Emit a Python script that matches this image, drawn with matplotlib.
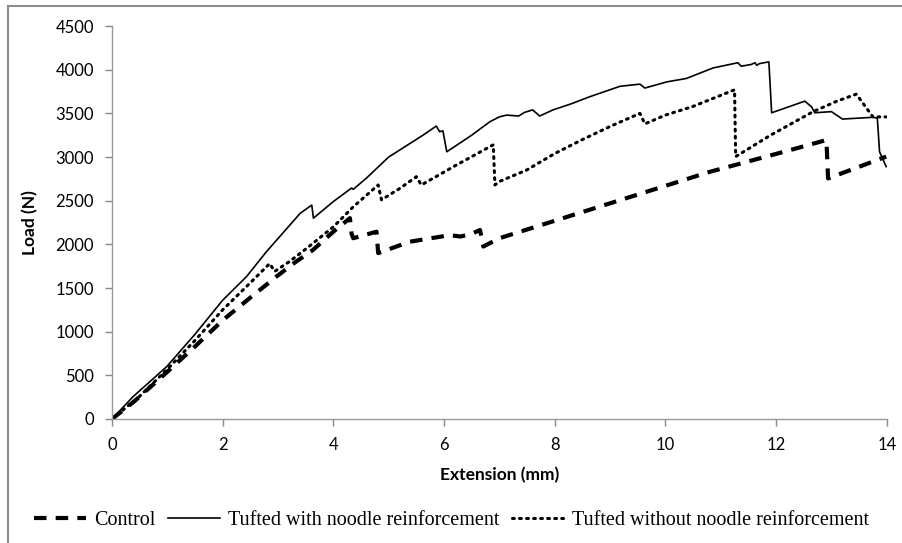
import matplotlib
matplotlib.use("Agg")
import matplotlib.pyplot as plt
from matplotlib.lines import Line2D

# === Dados ===
control_x = [0, 0.4, 1.0, 1.5, 2.0, 2.5, 2.97, 3.3, 3.63, 4.0, 4.3, 4.33, 4.36, 4.78, 4.81, 5.38,
             6.1, 6.3, 6.5, 6.65, 6.71, 7.0, 8.0, 9.0, 10.0, 10.8, 11.5, 12.2, 12.91, 12.94, 13.99]
control_y = [0, 200, 540, 830, 1130, 1390, 1630, 1790, 1935, 2145, 2300, 2120, 2070, 2145, 1900, 2030,
             2105, 2090, 2120, 2165, 1975, 2070, 2270, 2470, 2670, 2830, 2950, 3070, 3195, 2755, 3005]

noodle_x = [0, 0.38, 0.99, 1.5, 2.0, 2.43, 2.79, 3.4, 3.61, 3.64, 4.0, 4.33, 4.36, 4.6, 5.0, 5.62,
            5.86, 5.92, 5.98, 6.05, 6.5, 6.83, 7.0, 7.13, 7.35, 7.45, 7.6, 7.73, 7.97, 8.3, 8.63,
            9.18, 9.54, 9.63, 10.02, 10.38, 10.86, 11.31, 11.37, 11.55, 11.62, 11.65, 11.7, 11.87,
            11.92, 12.52, 12.64, 12.7, 13.0, 13.2, 13.75, 13.83, 13.87, 13.99]
noodle_y = [0, 255, 600, 970, 1360, 1630, 1915, 2355, 2450, 2300, 2490, 2645, 2630, 2760, 3000, 3250,
            3355, 3290, 3300, 3060, 3250, 3405, 3460, 3480, 3470, 3510, 3540, 3470, 3540, 3610, 3690,
            3810, 3835, 3790, 3860, 3900, 4020, 4080, 4040, 4060, 4080, 4050, 4070, 4090,
            3507, 3640, 3575, 3507, 3520, 3435, 3455, 3445, 3060, 2890]

no_noodle_x = [0, 0.5, 1.0, 1.5, 2.0, 2.5, 2.85, 2.94, 3.2, 3.52, 4.0, 4.36, 4.81, 4.87, 5.2, 5.5,
               5.59, 6.2, 6.89, 6.92, 7.0, 7.49, 8.0, 8.5, 9.0, 9.54, 9.63, 10.0, 10.5, 11.25, 11.27,
               11.9, 12.67, 13.1, 13.45, 13.75, 13.99]
no_noodle_y = [0, 260, 570, 900, 1250, 1560, 1780, 1690, 1800, 1955, 2200, 2430, 2680, 2510, 2640, 2775,
               2680, 2900, 3140, 2680, 2720, 2850, 3040, 3200, 3350, 3500, 3380, 3480, 3580, 3770, 3005,
               3250, 3520, 3640, 3720, 3460, 3460]

x_ticks = [0, 2, 4, 6, 8, 10, 12, 14]
y_ticks = [0, 500, 1000, 1500, 2000, 2500, 3000, 3500, 4000, 4500]

# === Figura ===
fig = plt.figure(figsize=(9.03, 5.43), dpi=100)
ax = fig.add_axes([0.124, 0.2284, 0.858, 0.7236])

tick_font = ["Lato", "DejaVu Sans"]
serif_font = ["Liberation Serif", "DejaVu Serif"]

ax.plot(control_x, control_y, color="black", linewidth=3, linestyle=(0, (3, 2.2)),
        label="Control")
ax.plot(noodle_x, noodle_y, color="black", linewidth=1.2, linestyle="-",
        label="Tufted with noodle reinforcement")
ax.plot(no_noodle_x, no_noodle_y, color="black", linewidth=2.2, linestyle=(0, (0.6, 1.7)),
        dash_capstyle="round", label="Tufted without noodle reinforcement")

ax.set_xlim(0, 14)
ax.set_ylim(0, 4500)
ax.set_xticks(x_ticks)
ax.set_yticks(y_ticks)
ax.set_xticklabels([str(v) for v in x_ticks], family=tick_font, fontsize=12)
ax.set_yticklabels([str(v) for v in y_ticks], family=tick_font, fontsize=12)
ax.tick_params(axis="both", direction="out", length=5, color="#888888", width=1, pad=8)

for lado in ["top", "right"]:
    ax.spines[lado].set_visible(False)
for lado in ["left", "bottom"]:
    ax.spines[lado].set_color("#999999")
    ax.spines[lado].set_linewidth(1)

ax.set_xlabel("Extension (mm)", family=tick_font, fontsize=12.5, fontweight="bold", labelpad=10)
ax.set_ylabel("Load (N)", family=tick_font, fontsize=12.5, fontweight="bold", labelpad=12)

leg = fig.legend(loc="center", bbox_to_anchor=(0.5, 0.042), ncol=3, frameon=False,
                 prop={"family": serif_font, "size": 14.5}, handlelength=2.6,
                 columnspacing=0.6, handletextpad=0.4)

# borda cinza do gráfico
fig.add_artist(Line2D([8 / 903, 8 / 903], [0, 1 - 6 / 543], transform=fig.transFigure,
                      color="#8c8c8c", linewidth=1.5))
fig.add_artist(Line2D([8 / 903, 1], [1 - 6 / 543, 1 - 6 / 543], transform=fig.transFigure,
                      color="#8c8c8c", linewidth=1.5))

fig.savefig("out.png", dpi=100)
